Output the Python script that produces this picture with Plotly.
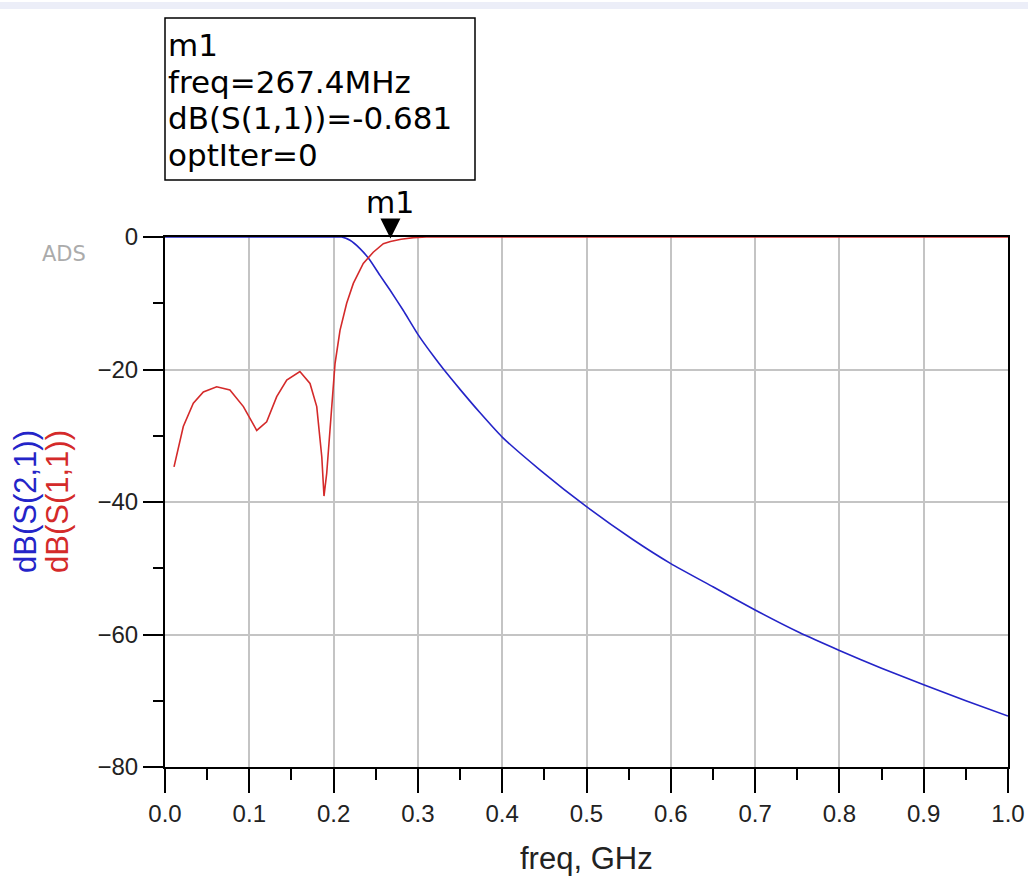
import plotly.graph_objects as go

# ---------------- data ----------------
s21_freq = [0.0, 0.05, 0.1, 0.15, 0.2, 0.2096, 0.2195, 0.2313, 0.2432, 0.255, 0.2669,
            0.2827, 0.3, 0.318, 0.33, 0.35, 0.3735, 0.4, 0.4443, 0.5, 0.5554, 0.6, 0.65,
            0.7, 0.7525, 0.8, 0.85, 0.9, 0.95, 1.0]
s21_db = [0, 0, 0, 0, 0, 0, -0.5, -1.75, -3.5, -5.8, -8.0,
          -11.1, -14.7, -17.9, -19.9, -23.0, -26.5, -30.2, -35.1, -40.7, -45.7, -49.3, -52.8,
          -56.3, -59.7, -62.4, -65.1, -67.6, -70.0, -72.3]

s11_freq = [0.0107, 0.0217, 0.0336, 0.0455, 0.0613, 0.077, 0.093, 0.1088, 0.1206, 0.1325,
            0.1444, 0.160, 0.172, 0.180, 0.186, 0.1886, 0.1918, 0.1957, 0.199, 0.2017,
            0.2076, 0.2155, 0.2234, 0.2352, 0.247, 0.259, 0.2674, 0.28, 0.2945, 0.31,
            0.5, 1.0]
s11_db = [-34.7, -28.6, -25.1, -23.4, -22.6, -23.1, -25.6, -29.2, -27.9, -24.1,
          -21.6, -20.3, -22.1, -25.6, -33.2, -39.1, -35.7, -29.6, -23.6, -19.1,
          -14.1, -10.0, -7.0, -4.0, -2.3, -1.0, -0.681, -0.35, -0.1, 0.0,
          0.0, 0.0]

marker_name = "m1"
marker_freq = 0.2674
marker_val = -0.681
marker_lines = ["m1", "freq=267.4MHz", "dB(S(1,1))=-0.681", "optIter=0"]

x_ticks = [0.0, 0.1, 0.2, 0.3, 0.4, 0.5, 0.6, 0.7, 0.8, 0.9, 1.0]
x_tick_labels = ["0.0", "0.1", "0.2", "0.3", "0.4", "0.5", "0.6", "0.7", "0.8", "0.9", "1.0"]
y_ticks = [0, -20, -40, -60, -80]

BLUE = "#2424c8"
RED = "#d42a2a"
FONT = "Liberation Sans, Arial, sans-serif"
BOXFONT = "DejaVu Sans, sans-serif"

# ---------------- figure ----------------
W, H = 1028, 890
L, R, T, B = 165, 20, 237, 123
PW, PH = W - L - R, H - T - B


def px(xp):
    return (xp - L) / PW


def py(yp):
    return (H - B - yp) / PH


fig = go.Figure()
fig.add_trace(go.Scatter(x=s21_freq, y=s21_db, mode="lines",
                         line=dict(color=BLUE, width=1.6, shape="spline", smoothing=0.5),
                         hoverinfo="x+y", name="dB(S(2,1))"))
fig.add_trace(go.Scatter(x=s11_freq, y=s11_db, mode="lines",
                         line=dict(color=RED, width=1.6),
                         hoverinfo="x+y", name="dB(S(1,1))"))

annotations = []
# marker triangle
annotations.append(dict(x=marker_freq, y=marker_val, xref="x", yref="y", text="",
                        showarrow=True, ax=0, ay=-19, arrowhead=2, arrowsize=4,
                        arrowwidth=1, arrowcolor="black", standoff=3))
# marker label
annotations.append(dict(x=marker_freq, y=marker_val, xref="x", yref="y", text=marker_name,
                        showarrow=False, yshift=39, xanchor="center", yanchor="middle",
                        font=dict(family=BOXFONT, size=30, color="black")))
# marker readout box text
line_centers = [45, 82, 118, 155]
for txt, yc in zip(marker_lines, line_centers):
    annotations.append(dict(x=px(166), y=py(yc), xref="paper", yref="paper", text=txt,
                            showarrow=False, xanchor="left", yanchor="middle",
                            font=dict(family=BOXFONT, size=31, color="black")))
# axis titles
annotations.append(dict(x=px(25), y=py(502), xref="paper", yref="paper", text="dB(S(2,1))",
                        textangle=-90, showarrow=False, xanchor="center", yanchor="middle",
                        font=dict(family=FONT, size=31, color=BLUE)))
annotations.append(dict(x=px(57), y=py(502), xref="paper", yref="paper", text="dB(S(1,1))",
                        textangle=-90, showarrow=False, xanchor="center", yanchor="middle",
                        font=dict(family=FONT, size=31, color=RED)))
annotations.append(dict(x=0.5, y=py(858), xref="paper", yref="paper", text="freq, GHz",
                        showarrow=False, xanchor="center", yanchor="middle",
                        font=dict(family=FONT, size=31, color="#222222")))
annotations.append(dict(x=px(64), y=py(254), xref="paper", yref="paper", text="ADS",
                        showarrow=False, xanchor="center", yanchor="middle",
                        font=dict(family="DejaVu Sans, sans-serif", size=21, color="#ababab")))

shapes = [
    dict(type="rect", xref="paper", yref="paper", x0=px(0), x1=px(W), y0=py(2), y1=py(9),
         fillcolor="#eceef8", line=dict(width=0), layer="below"),
    dict(type="rect", xref="paper", yref="paper", x0=px(165), x1=px(475), y0=py(180), y1=py(18),
         fillcolor="white", line=dict(color="black", width=1.5), layer="above"),
]

fig.update_layout(
    width=W, height=H,
    margin=dict(l=L, r=R, t=T, b=B, pad=0, autoexpand=False),
    paper_bgcolor="white", plot_bgcolor="white",
    showlegend=False,
    annotations=annotations,
    shapes=shapes,
    font=dict(family=FONT, color="#222222"),
)
fig.update_xaxes(
    range=[0, 1], tickmode="array", tickvals=x_ticks, ticktext=x_tick_labels,
    showgrid=True, gridcolor="#c4c4c4", gridwidth=1.5,
    showline=True, linecolor="black", linewidth=2, mirror=True,
    ticks="outside", ticklen=24, tickwidth=2, tickcolor="black",
    tickfont=dict(family=FONT, size=24, color="#222222"),
    minor=dict(dtick=0.05, ticks="outside", ticklen=11, tickwidth=2, tickcolor="black", showgrid=False),
    zeroline=False, automargin=False,
)
fig.update_yaxes(
    range=[-80, 0], tickmode="array", tickvals=y_ticks,
    showgrid=True, gridcolor="#c4c4c4", gridwidth=1.5,
    showline=True, linecolor="black", linewidth=2, mirror=True,
    ticks="outside", ticklen=20, tickwidth=2, tickcolor="black",
    tickfont=dict(family=FONT, size=24, color="#222222"),
    minor=dict(dtick=10, ticks="outside", ticklen=10, tickwidth=2, tickcolor="black", showgrid=False),
    zeroline=False, automargin=False,
)

fig.write_html("out.html", config={"displayModeBar": False},
               post_script="document.body.style.margin='0';document.body.style.overflow='hidden';")
